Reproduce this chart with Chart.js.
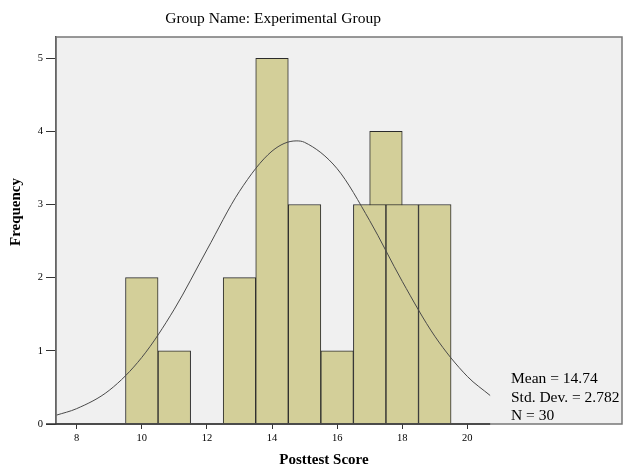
<!DOCTYPE html>
<html>
<head>
<meta charset="utf-8">
<script src="https://cdn.jsdelivr.net/npm/chart.js"></script>
<style>
  body { margin: 0; background: #fff; }
  canvas { display: block; }
</style>
</head>
<body>
<canvas id="hist" width="625" height="466"></canvas>
<script>
// histogram bins (centre of bin, count)
const binCenters = [10, 11, 13, 14, 15, 16, 17, 18, 19];
const binCounts = [2, 1, 2, 5, 3, 1, 3, 3, 3];
// the taller bar that sits behind, between 17 and 18
const extraCenters = [17.5];
const extraCounts = [4];

// normal curve
const curveX = [7.37, 8, 9, 10, 11, 12, 13, 14, 14.74, 15, 16, 17, 18, 19, 20, 20.7];
const curveY = [0.12, 0.21, 0.46, 0.91, 1.57, 2.38, 3.18, 3.73, 3.87, 3.85, 3.49, 2.78, 1.95, 1.20, 0.65, 0.39];

const xTicks = [8, 10, 12, 14, 16, 18, 20];
const yTicks = [0, 1, 2, 3, 4, 5];

const titleText = 'Group Name: Experimental Group';
const xTitle = 'Posttest Score';
const yTitle = 'Frequency';
const statsText = ['Mean = 14.74', 'Std. Dev. = 2.782', 'N = 30'];

const serif = '"Liberation Serif", "DejaVu Serif", serif';
const barFill = '#d3cf99';
const barLine = '#2b2b2b';

function pts(xs, ys) {
    return xs.map(function (x, i) { return { x: x, y: ys[i] }; });
}

const xMin = 7.365, xMax = 24.75, axisEnd = 20.7;

const boxPlugin = {
    id: 'spssBox',
    beforeDraw(chart) {
        const ctx = chart.ctx;
        const a = chart.chartArea;
        ctx.save();
        ctx.fillStyle = '#ffffff';
        ctx.fillRect(0, 0, chart.width, chart.height);
        ctx.fillStyle = '#f0f0f0';
        ctx.fillRect(a.left, a.top, a.right - a.left, a.bottom - a.top);
        ctx.restore();
    },
    afterDraw(chart) {
        const ctx = chart.ctx;
        const a = chart.chartArea;
        const xs = chart.scales.x;
        ctx.save();
        ctx.strokeStyle = '#777';
        ctx.lineWidth = 1.5;
        ctx.strokeRect(a.left, a.top, a.right - a.left, a.bottom - a.top);
        // x axis line, only as far as the data
        ctx.strokeStyle = '#333';
        ctx.lineWidth = 1.5;
        ctx.beginPath();
        ctx.moveTo(a.left - 10, a.bottom);
        ctx.lineTo(xs.getPixelForValue(axisEnd), a.bottom);
        ctx.stroke();

        ctx.fillStyle = '#000';
        ctx.textAlign = 'center';
        ctx.textBaseline = 'middle';
        ctx.font = '15.5px ' + serif;
        ctx.fillText(titleText, (a.left + xs.getPixelForValue(axisEnd)) / 2, 19);

        ctx.font = 'bold 15px ' + serif;
        ctx.fillText(xTitle, 324, 460);

        ctx.save();
        ctx.translate(16, 212);
        ctx.rotate(-Math.PI / 2);
        ctx.fillText(yTitle, 0, 0);
        ctx.restore();

        ctx.textAlign = 'left';
        ctx.font = '15.5px ' + serif;
        for (let i = 0; i < statsText.length; i++) {
            ctx.fillText(statsText[i], 511, 379 + i * 18.5);
        }
        ctx.restore();
    }
};

new Chart('hist', {
    type: 'bar',
    data: {
        datasets: [
            {
                type: 'line',
                data: pts(curveX, curveY),
                borderColor: '#4a4a4a',
                borderWidth: 1,
                pointRadius: 0,
                cubicInterpolationMode: 'monotone',
                fill: false,
                order: 0
            },
            {
                data: pts(binCenters, binCounts),
                backgroundColor: barFill,
                borderColor: barLine,
                borderWidth: 1,
                barPercentage: 1,
                categoryPercentage: 1,
                grouped: false,
                order: 1
            },
            {
                data: pts(extraCenters, extraCounts),
                xAxisID: 'x2',
                backgroundColor: barFill,
                borderColor: barLine,
                borderWidth: 1,
                barPercentage: 1,
                categoryPercentage: 1,
                grouped: false,
                order: 2
            }
        ]
    },
    options: {
        responsive: false,
        animation: false,
        devicePixelRatio: 1,
        layout: { padding: { left: 0, top: 37, right: 3, bottom: 0 } },
        plugins: {
            legend: { display: false },
            tooltip: { enabled: false },
            title: { display: false }
        },
        scales: {
            x: {
                type: 'linear',
                min: xMin,
                max: xMax,
                offset: false,
                afterBuildTicks: function (s) { s.ticks = xTicks.map(function (v) { return { value: v }; }); },
                afterFit: function (s) { s.height = 42; },
                border: { display: false },
                grid: { offset: false, drawOnChartArea: false, drawTicks: true, tickLength: 5, color: '#333', lineWidth: 1 },
                ticks: {
                    font: { size: 10.5, family: serif },
                    color: '#000',
                    padding: 3,
                    maxRotation: 0
                }
            },
            x2: {
                type: 'linear',
                display: false,
                offset: false,
                min: xMin,
                max: xMax,
                afterBuildTicks: function (s) {
                    s.ticks = binCenters.map(function (v) { return { value: v }; });
                }
            },
            y: {
                min: 0,
                max: 5.29,
                afterBuildTicks: function (s) { s.ticks = yTicks.map(function (v) { return { value: v }; }); },
                afterFit: function (s) { s.width = 56; },
                border: { display: true, color: '#333', width: 1.5 },
                grid: { drawOnChartArea: false, drawTicks: true, tickLength: 10, color: '#333', lineWidth: 1 },
                ticks: {
                    font: { size: 10.5, family: serif },
                    color: '#000',
                    padding: 3
                }
            }
        }
    },
    plugins: [boxPlugin]
});
</script>
</body>
</html>
